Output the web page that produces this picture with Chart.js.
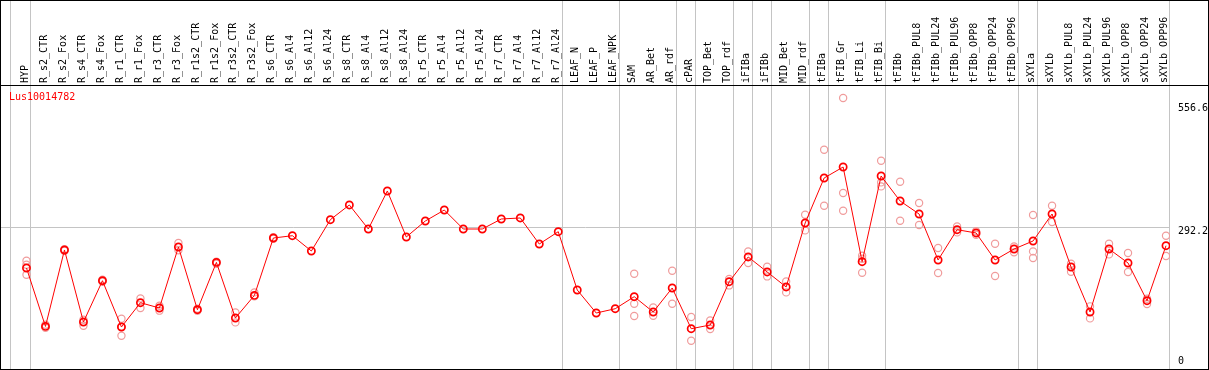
<!DOCTYPE html>
<html lang="en">
<head>
    <meta charset="UTF-8">
    <title>Lus10014782</title>
    <script src="https://cdn.jsdelivr.net/npm/chart.js"></script>
    <style>
        body {
            margin: 0;
            background: #ffffff;
        }
        #wrap {
            width: 1209px;
            height: 370px;
        }
    </style>
</head>
<body>
    <div id="wrap"><canvas id="chart"></canvas></div>

    <script>
        // gene shown
        const geneName = 'Lus10014782';

        // samples (x axis, top)
        const categories = [
            'HYP', 'R_s2_CTR', 'R_s2_Fox', 'R_s4_CTR', 'R_s4_Fox', 'R_r1_CTR', 'R_r1_Fox', 'R_r3_CTR', 'R_r3_Fox',
            'R_r1s2_CTR', 'R_r1s2_Fox', 'R_r3s2_CTR', 'R_r3s2_Fox', 'R_s6_CTR', 'R_s6_Al4', 'R_s6_Al12', 'R_s6_Al24',
            'R_s8_CTR', 'R_s8_Al4', 'R_s8_Al12', 'R_s8_Al24', 'R_r5_CTR', 'R_r5_Al4', 'R_r5_Al12', 'R_r5_Al24',
            'R_r7_CTR', 'R_r7_Al4', 'R_r7_Al12', 'R_r7_Al24', 'LEAF_N', 'LEAF_P', 'LEAF_NPK', 'SAM', 'AR_Bet', 'AR_rdf',
            'cPAR', 'TOP_Bet', 'TOP_rdf', 'iFIBa', 'iFIBb', 'MID_Bet', 'MID_rdf', 'tFIBa', 'tFIB_Gr', 'tFIB_Li', 'tFIB_Bi',
            'tFIBb', 'tFIBb_PUL8', 'tFIBb_PUL24', 'tFIBb_PUL96', 'tFIBb_OPP8', 'tFIBb_OPP24', 'tFIBb_OPP96',
            'sXYLa', 'sXYLb', 'sXYLb_PUL8', 'sXYLb_PUL24', 'sXYLb_PUL96', 'sXYLb_OPP8', 'sXYLb_OPP24', 'sXYLb_OPP96'
        ];

        // mean expression per sample
        const meanValues = [
            208.7, 89.2, 245.6, 98.2, 182.7, 88.0, 137.7, 126.9, 251.7, 123.4,
            220.2, 106.4, 152.7, 270.1, 274.8, 243.5, 307.6, 337.7, 288.5, 366.3,
            272.2, 304.9, 327.4, 288.5, 288.5, 309.0, 311.1, 257.8, 283.0, 163.7,
            116.6, 125.4, 150.0, 118.7, 167.8, 84.5, 92.1, 180.7, 231.3, 200.6,
            169.9, 300.8, 392.9, 415.4, 221.6, 397.0, 345.8, 319.2, 225.1, 287.1,
            280.4, 225.1, 247.6, 264.0, 319.2, 210.8, 118.7, 247.6, 219.0, 141.8, 254.4
        ];

        // single replicates per sample
        const replicateValues = [
            [223.7, 215.5, 195.0], [92.7, 86.6], [247.2, 244.1], [102.9, 90.7], [184.8, 180.7],
            [105.0, 88.6, 70.2], [146.5, 126.9], [131.6, 121.4], [259.9, 244.8], [125.4, 121.4],
            [221.6, 217.5], [117.9, 97.4], [158.8, 150.6], [271.8, 268.7], [], [], [], [], [], [],
            [], [], [], [], [], [], [], [], [], [],
            [], [], [197.1, 135.7, 110.5], [128.1, 111.1], [203.2, 135.7], [108.5, 60.0], [101.5, 83.9],
            [186.2, 173.1], [242.7, 219.0], [211.4, 191.5], [181.3, 158.8], [317.8, 285.7], [450.8, 336.2],
            [556.6, 362.2, 326.0], [233.9, 227.8, 199.1], [428.3, 383.9, 375.7], [385.3, 305.5],
            [341.8, 296.7], [249.7, 198.5], [293.9, 281.6], [284.0, 276.9], [258.5, 192.4], [252.9, 240.7],
            [317.2, 242.7, 229.2], [336.2, 302.9], [217.5, 201.2], [130.2, 105.6], [258.5, 236.6],
            [239.4, 200.6], [145.9, 135.1], [274.8, 233.3]
        ];

        // last sample index of every tissue group (separators)
        const groupEnds = [0, 28, 31, 34, 35, 37, 38, 39, 41, 42, 45, 52, 53, 60];

        // y labels
        const yTickValues = [0, 292.2, 556.6];

        const FONT = 'DejaVu Sans Mono';

        const meanPoints = meanValues.map((v, i) => ({ x: i, y: v }));
        const repPoints = [];
        replicateValues.forEach((reps, i) => {
            reps.forEach(v => repPoints.push({ x: i, y: v }));
        });

        // frame, group separators, y labels and gene name
        const framePlugin = {
            id: 'frame',
            beforeDatasetsDraw(chart) {
                const ctx = chart.ctx;
                const xs = chart.scales.x;
                ctx.save();
                ctx.strokeStyle = '#c4c4c4';
                ctx.lineWidth = 1;
                const lines = [-0.84].concat(groupEnds.map(g => g + 0.21));
                lines.forEach(v => {
                    const px = Math.floor(xs.getPixelForValue(v)) + 0.5;
                    ctx.beginPath();
                    ctx.moveTo(px, 0);
                    ctx.lineTo(px, 369);
                    ctx.stroke();
                });
                ctx.restore();
            },
            afterDraw(chart) {
                const ctx = chart.ctx;
                const ys = chart.scales.y;
                const area = chart.chartArea;
                ctx.save();
                ctx.strokeStyle = '#000000';
                ctx.lineWidth = 1;
                ctx.strokeRect(0.5, 0.5, 1208, 369);
                ctx.beginPath();
                ctx.moveTo(0, area.top + 0.5);
                ctx.lineTo(1208, area.top + 0.5);
                ctx.stroke();

                ctx.font = '10px "' + FONT + '"';
                ctx.textBaseline = 'top';
                ctx.textAlign = 'left';
                ctx.fillStyle = '#000000';
                yTickValues.forEach(v => {
                    let py = ys.getPixelForValue(v) - 0.7;
                    py = Math.min(Math.max(py, 103.5), 356.5);
                    ctx.fillText(v === 0 ? '0' : v.toFixed(1), area.right + 8, py);
                });

                ctx.fillStyle = '#ff0000';
                ctx.fillText(geneName, 9, area.top + 7);
                ctx.restore();
            }
        };

        new Chart(document.getElementById('chart'), {
            type: 'line',
            data: {
                datasets: [
                    {
                        label: geneName,
                        data: meanPoints,
                        order: 1,
                        borderColor: '#ff0000',
                        borderWidth: 1,
                        pointRadius: 3.6,
                        pointBorderWidth: 1.7,
                        pointBorderColor: '#ff0000',
                        pointBackgroundColor: 'rgba(0,0,0,0)',
                        tension: 0
                    },
                    {
                        label: 'replicates',
                        type: 'scatter',
                        data: repPoints,
                        order: 2,
                        pointRadius: 3.6,
                        pointBorderWidth: 1.2,
                        pointBorderColor: '#f09c9c',
                        pointBackgroundColor: 'rgba(0,0,0,0)',
                        showLine: false
                    }
                ]
            },
            options: {
                responsive: true,
                maintainAspectRatio: false,
                animation: false,
                events: [],
                layout: {
                    autoPadding: false,
                    padding: { top: 1, left: 1, right: 1, bottom: 0 }
                },
                plugins: {
                    legend: { display: false },
                    tooltip: { enabled: false }
                },
                scales: {
                    x: {
                        type: 'linear',
                        position: 'top',
                        min: -1.3421,
                        max: 60.2105,
                        afterBuildTicks: scale => {
                            scale.ticks = categories.map((c, i) => ({ value: i }));
                        },
                        afterFit: scale => {
                            scale.height = 84;
                            scale.paddingLeft = 0;
                            scale.paddingRight = 0;
                        },
                        grid: { display: false, drawTicks: false },
                        border: { display: false },
                        ticks: {
                            autoSkip: false,
                            minRotation: 90,
                            maxRotation: 90,
                            padding: 2,
                            labelOffset: 10.5,
                            color: '#000000',
                            font: { family: FONT, size: 10 },
                            callback: value => categories[value]
                        }
                    },
                    y: {
                        type: 'linear',
                        position: 'right',
                        min: 0,
                        max: 583.2,
                        afterBuildTicks: scale => {
                            scale.ticks = yTickValues.map(v => ({ value: v }));
                        },
                        afterFit: scale => {
                            scale.width = 38;
                            scale.paddingTop = 0;
                            scale.paddingBottom = 0;
                        },
                        grid: {
                            drawTicks: false,
                            color: ctx => (ctx.tick && ctx.tick.value === 292.2) ? '#c4c4c4' : 'rgba(0,0,0,0)'
                        },
                        border: { display: false },
                        ticks: { display: false }
                    }
                }
            },
            plugins: [framePlugin]
        });
    </script>
</body>
</html>
